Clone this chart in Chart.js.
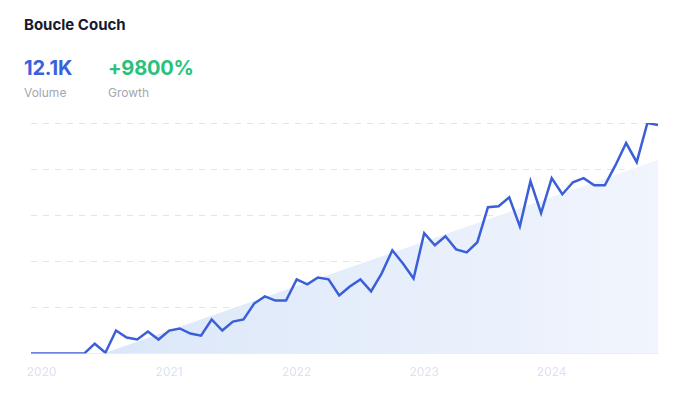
<!DOCTYPE html>
<html>
<head>
<meta charset="utf-8">
<script src="https://cdn.jsdelivr.net/npm/chart.js@4/dist/chart.umd.min.js"></script>
<style>
  html, body { margin: 0; padding: 0; background: #fff; }
  body { width: 686px; height: 397px; position: relative; overflow: hidden; font-family: Inter, "Open Sans", sans-serif; }
  .title { position: absolute; left: 24px; top: 16px; font-size: 15px; font-weight: 700; color: #161a2d; line-height: 18px; }
  .stat { position: absolute; top: 56px; font-size: 20px; font-weight: 700; line-height: 24px; letter-spacing: -0.2px; }
  .lbl { position: absolute; top: 85px; font-size: 12px; color: #a3a7ae; line-height: 15px; }
  #wrap { position: absolute; left: 0; top: 110px; width: 686px; height: 287px; }
</style>
</head>
<body>
<div class="title">Boucle Couch</div>
<div class="stat" style="left:24px;color:#3a62dc">12.1K</div>
<div class="stat" style="left:108px;color:#27c27b">+9800%</div>
<div class="lbl" style="left:24px">Volume</div>
<div class="lbl" style="left:108px">Growth</div>
<div id="wrap"><canvas id="chart"></canvas></div>

<script>
/* ===== data ===== */
// monthly search volume, Dec 2019 .. Nov 2024 (relative, 0-100)
var volume = [
  0, 0, 0, 0, 0, 0, 4.3, 0.4, 10, 7, 6.1, 9.6,
  6.1, 10, 10.9, 8.7, 7.8, 14.8, 10, 13.9, 14.8, 21.7, 24.8, 23,
  23, 32.2, 30, 33, 32.2, 25.2, 29.1, 32.2, 27, 34.8, 44.8, 39.1,
  32.6, 52.2, 47, 50.9, 45.2, 43.9, 48.3, 63.5, 63.9, 67.8, 55.2, 74.8,
  60.9, 76.1, 69.1, 74.3, 76.1, 73, 73, 81.7, 91.3, 83, 100, 99.1
];
// linear trend, first and last month only
var trendStart = -10.9;
var trendEnd = 84;
var yearTicks = ['2020', '2021', '2022', '2023', '2024'];
var monthNames = ['Jan','Feb','Mar','Apr','May','Jun','Jul','Aug','Sep','Oct','Nov','Dec'];

var months = [];
for (var i = 0; i < volume.length; i++) {
  var m = (11 + i) % 12;
  var y = 2019 + Math.floor((11 + i) / 12);
  months.push(monthNames[m] + ' ' + y);
}
var trend = volume.map(function () { return null; });
trend[0] = trendStart;
trend[trend.length - 1] = trendEnd;

/* ===== chart ===== */
var ctx = document.getElementById('chart');
var chart = new Chart(ctx, {
  type: 'line',
  data: {
    labels: months,
    datasets: [{
      label: 'Volume',
      data: volume,
      borderColor: '#3a5fd8',
      borderWidth: 2.5,
      pointRadius: 0,
      tension: 0,
      fill: false,
      order: 0
    }, {
      label: 'Trend',
      data: trend,
      spanGaps: true,
      borderWidth: 0,
      borderColor: 'rgba(0,0,0,0)',
      pointRadius: 0,
      fill: 'origin',
      order: 1,
      backgroundColor: function (c) {
        var area = c.chart.chartArea;
        if (!area) return '#e6eefa';
        var g = c.chart.ctx.createLinearGradient(area.left, 0, area.right, 0);
        g.addColorStop(0, '#d8e5f8');
        g.addColorStop(1, '#f1f5fd');
        return g;
      }
    }]
  },
  options: {
    responsive: true,
    maintainAspectRatio: false,
    animation: false,
    layout: { padding: { left: 31, right: 28, top: 13, bottom: 5 } },
    plugins: { legend: { display: false }, tooltip: { enabled: false } },
    scales: {
      x: {
        offset: false,
        grid: { display: false, drawTicks: false },
        border: { display: true, color: '#e9edf6', width: 1 },
        ticks: {
          autoSkip: false,
          maxRotation: 0,
          padding: 12,
          color: '#dde2f1',
          font: { family: 'Inter', size: 12 },
          callback: function (val, idx) {
            var lab = this.getLabelForValue(val);
            if (lab.indexOf('Jan') === 0) {
              var yr = lab.slice(4);
              return yearTicks.indexOf(yr) >= 0 ? yr : '';
            }
            return '';
          }
        }
      },
      y: {
        min: 0,
        max: 100,
        ticks: { display: false, stepSize: 20 },
        border: { display: false, dash: [6, 6] },
        grid: {
          drawTicks: false,
          color: function (c) { return c.tick && c.tick.value === 0 ? 'rgba(0,0,0,0)' : '#e3e5ea'; }
        }
      }
    }
  }
});
</script>
</body>
</html>
